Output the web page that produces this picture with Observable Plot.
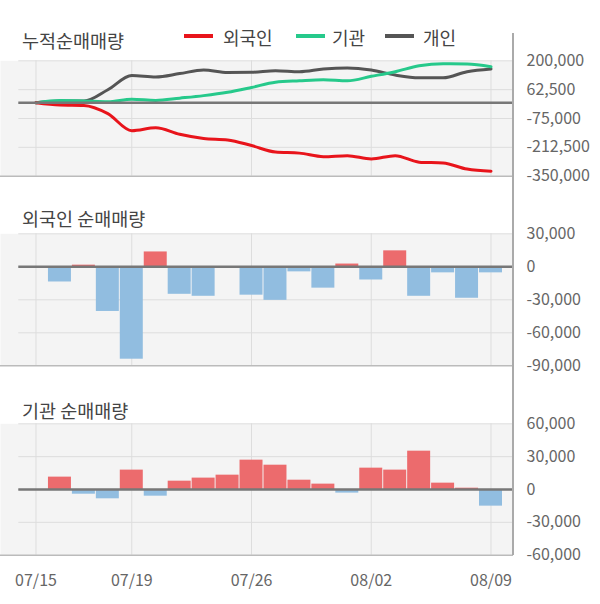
<!DOCTYPE html>
<html><head><meta charset="utf-8">
<script src="https://cdn.jsdelivr.net/npm/d3@7"></script>
<script src="https://cdn.jsdelivr.net/npm/@observablehq/plot@0.6"></script>
<style>
body{margin:0;background:#fff}
#root{position:relative;width:600px;height:604px;font-family:"Noto Sans CJK KR","Noto Sans",sans-serif;overflow:hidden;background:#fff}
.t{position:absolute;font-size:18.5px;line-height:24px;color:#444;white-space:nowrap}
.lg{position:absolute;font-size:18px;line-height:24px;color:#444;white-space:nowrap}
.sw{position:absolute;height:4px;width:29px}
.panel{position:absolute;left:0}
#axis{position:absolute;left:512px;top:33px;width:2px;height:522px;background:#aaa}
</style></head><body>
<div id="root">
  <div class="t" style="left:22px;top:28px">누적순매매량</div>
  <div class="sw" style="left:184px;top:34px;background:#e8141b"></div>
  <div class="lg" style="left:223px;top:25px">외국인</div>
  <div class="sw" style="left:296px;top:34px;background:#26c98b"></div>
  <div class="lg" style="left:332px;top:25px">기관</div>
  <div class="sw" style="left:385px;top:34px;background:#555555"></div>
  <div class="lg" style="left:423px;top:25px">개인</div>
  <div class="t" style="left:22px;top:206px">외국인 순매매량</div>
  <div class="t" style="left:22px;top:398px">기관 순매매량</div>
  <div class="panel" id="p1" style="top:48px"></div>
  <div class="panel" id="p2" style="top:222px"></div>
  <div class="panel" id="p3" style="top:412px"></div>
  <div id="axis"></div>
</div>
<script>
const dates = ["07/15","07/16","07/17","07/18","07/19","07/22","07/23","07/24","07/25","07/26","07/29","07/30","07/31","08/01","08/02","08/05","08/06","08/07","08/08","08/09"];
const tickIdx = [0, 4, 9, 14, 19];

const foreignCum = [0, -11000, -13000, -52000, -133000, -119000, -150000, -170000, -177000, -204000, -235000, -240000, -257000, -252000, -268000, -252000, -283000, -287000, -316000, -326000];
const instCum    = [0, 11000, 9000, 5000, 17000, 11000, 22000, 34000, 50000, 73000, 98000, 105000, 110000, 105000, 126000, 148000, 176000, 186000, 185000, 172000];
const indivCum   = [0, 8000, 8000, 62000, 130000, 123000, 139000, 156000, 144000, 145000, 153000, 148000, 161000, 166000, 156000, 132000, 119000, 119000, 148000, 161000];

const foreignNet = [null, -13800, 1500, -40600, -84000, 13500, -25000, -26800, 0, -25800, -30500, -4600, -19400, 2500, -12000, 14500, -26800, -5500, -28600, -5500];
const instNet    = [null, 11300, -4300, -8500, 17700, -6100, 7600, 10400, 13100, 26800, 22200, 8500, 4900, -3300, 19500, 17700, 35000, 5800, 1200, -15200];

const cumTicks = [200000, 62500, -75000, -212500, -350000];
const foreignTicks = [30000, 0, -30000, -60000, -90000];
const instTicks = [60000, 30000, 0, -30000, -60000];

const fmt = d => d.toLocaleString("en-US");
const font = "'Noto Sans CJK KR','Noto Sans',sans-serif";

function base({height, marginTop, marginBottom, ticks, marks, xAxis}) {
  const top = ticks.slice(0, -1);
  const ymin = ticks[ticks.length - 1], ymax = ticks[0];
  return Plot.plot({
    width: 600, height, marginLeft: 0, marginRight: 87, marginTop, marginBottom,
    style: {fontFamily: font, fontSize: "16px", color: "#666", background: "transparent", overflow: "visible"},
    x: {type: "linear", domain: [0, dates.length - 1], insetLeft: 35.5, insetRight: 22.5, axis: null},
    y: {domain: [ymin, ymax], axis: null},
    marks: [
      Plot.frame({fill: "#f4f4f4", stroke: null}),
      Plot.ruleX(tickIdx, {stroke: "#dddddd", strokeWidth: 1}),
      Plot.ruleY(top, {stroke: "#dddddd", strokeWidth: 1, insetLeft: 18.3}),
      Plot.ruleY([ymin], {stroke: "#bbbbbb", strokeWidth: 1.5}),
      ...marks,
      Plot.ruleY([0], {stroke: "#777777", strokeWidth: 2.5, insetLeft: 18.3}),
      Plot.axisY(ticks, {anchor: "right", label: null, tickSize: 0, tickPadding: 13, tickFormat: fmt, fill: "#666", fontSize: 16}),
      ...(xAxis ? [Plot.axisX(tickIdx, {label: null, tickSize: 0, tickPadding: 19, tickFormat: i => dates[i], fill: "#666", fontSize: 16})] : [])
    ]
  });
}

const cumData = dates.map((d, i) => ({i, f: foreignCum[i], n: instCum[i], p: indivCum[i]}));
const lineOpts = {x: "i", strokeWidth: 3, curve: "monotone-x"};
document.getElementById("p1").append(base({
  height: 140, marginTop: 12.3, marginBottom: 12.3, ticks: cumTicks,
  marks: [
    Plot.line(cumData, {...lineOpts, y: "p", stroke: "#555555"}),
    Plot.line(cumData, {...lineOpts, y: "n", stroke: "#26c98b"}),
    Plot.line(cumData, {...lineOpts, y: "f", stroke: "#e8141b"})
  ]
}));

function barData(arr) {
  return arr.map((v, i) => ({i, v})).filter(d => d.v !== null);
}
const barOpts = {x1: d => d.i - 0.48, x2: d => d.i + 0.48, y: "v", fill: d => d.v >= 0 ? "#ec6b6d" : "#91bde0"};

document.getElementById("p2").append(base({
  height: 155, marginTop: 11.3, marginBottom: 11.7, ticks: foreignTicks,
  marks: [Plot.rectY(barData(foreignNet), barOpts)]
}));

document.getElementById("p3").append(base({
  height: 192, marginTop: 11.3, marginBottom: 49.3, ticks: instTicks, xAxis: true,
  marks: [Plot.rectY(barData(instNet), barOpts)]
}));
</script>
</body></html>
